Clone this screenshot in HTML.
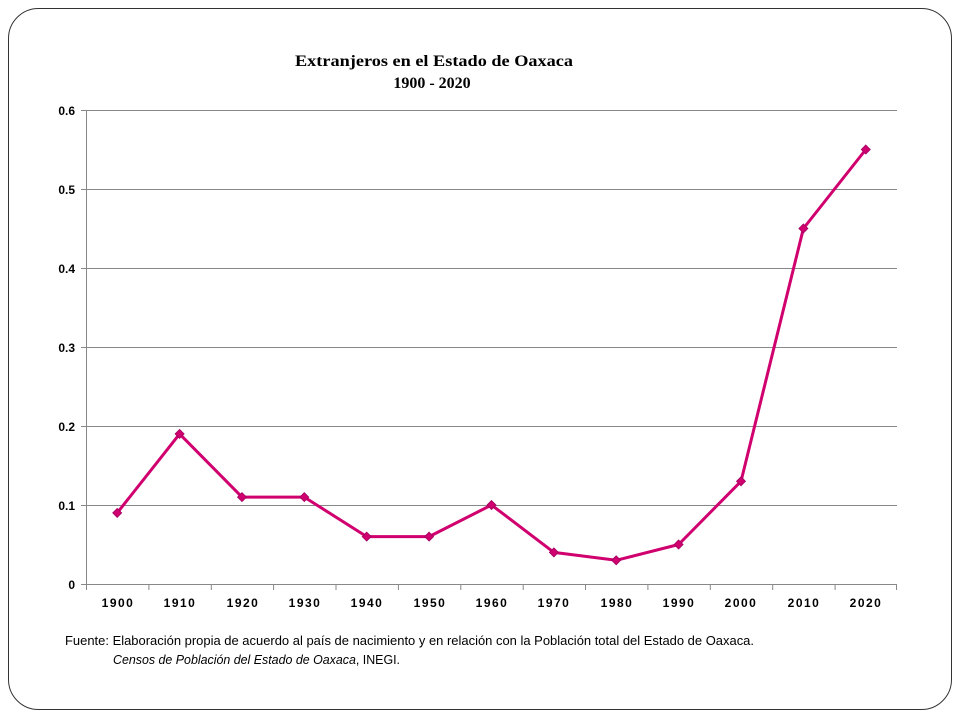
<!DOCTYPE html>
<html><head><meta charset="utf-8"><style>body{margin:0;background:#fff}svg{display:block}</style></head><body>
<svg width="960" height="720" xmlns="http://www.w3.org/2000/svg">
<rect x="8.5" y="8.5" width="943" height="701" rx="30" fill="#fff" stroke="#333" stroke-width="1"/>
<g font-family="Liberation Serif, serif" font-weight="bold" font-size="16" fill="#000" text-anchor="middle">
<text x="434" y="66" textLength="278" lengthAdjust="spacingAndGlyphs">Extranjeros en el Estado de Oaxaca</text>
<text x="432" y="88">1900 - 2020</text>
</g>
<g stroke="#888" stroke-width="1">
<line x1="86" y1="110.5" x2="897" y2="110.5"/>
<line x1="86" y1="189.5" x2="897" y2="189.5"/>
<line x1="86" y1="268.5" x2="897" y2="268.5"/>
<line x1="86" y1="347.5" x2="897" y2="347.5"/>
<line x1="86" y1="426.5" x2="897" y2="426.5"/>
<line x1="86" y1="505.5" x2="897" y2="505.5"/>
<line x1="86" y1="584.5" x2="897" y2="584.5"/>
<line x1="86.5" y1="110" x2="86.5" y2="584"/>
<line x1="81" y1="110.5" x2="86" y2="110.5"/><line x1="81" y1="189.5" x2="86" y2="189.5"/><line x1="81" y1="268.5" x2="86" y2="268.5"/><line x1="81" y1="347.5" x2="86" y2="347.5"/><line x1="81" y1="426.5" x2="86" y2="426.5"/><line x1="81" y1="505.5" x2="86" y2="505.5"/><line x1="81" y1="584.5" x2="86" y2="584.5"/>
<path d="M86.5 584v6M148.9 584v6M211.3 584v6M273.6 584v6M336 584v6M398.4 584v6M460.8 584v6M523.2 584v6M585.5 584v6M647.9 584v6M710.3 584v6M772.7 584v6M835.1 584v6M896.5 584v6"/>
</g>
<g font-family="Liberation Sans, sans-serif" font-weight="bold" font-size="12" fill="#000" text-anchor="end">
<text x="75" y="115">0.6</text><text x="75" y="194">0.5</text><text x="75" y="273">0.4</text><text x="75" y="352">0.3</text><text x="75" y="431">0.2</text><text x="75" y="510">0.1</text><text x="75" y="589">0</text>
</g>
<g font-family="Liberation Sans, sans-serif" font-weight="bold" font-size="12" fill="#000" text-anchor="middle" letter-spacing="1.5">
<text x="118" y="607">1900</text><text x="180" y="607">1910</text><text x="243" y="607">1920</text><text x="305" y="607">1930</text><text x="367" y="607">1940</text><text x="430" y="607">1950</text><text x="492" y="607">1960</text><text x="554" y="607">1970</text><text x="617" y="607">1980</text><text x="679" y="607">1990</text><text x="741" y="607">2000</text><text x="804" y="607">2010</text><text x="866" y="607">2020</text>
</g>
<polyline fill="none" stroke="#d0006f" stroke-width="3" stroke-linejoin="round" points="117.2,512.9 179.6,433.9 242,497.1 304.3,497.1 366.7,536.6 429.1,536.6 491.5,505 553.9,552.4 616.2,560.3 678.6,544.5 741,481.3 803.4,228.5 865.8,149.5"/>
<g fill="#d0006f" stroke="#a00060" stroke-width="0.8">
<path d="M117.2 508.4l4.5 4.5l-4.5 4.5l-4.5-4.5z"/><path d="M179.6 429.4l4.5 4.5l-4.5 4.5l-4.5-4.5z"/><path d="M242 492.6l4.5 4.5l-4.5 4.5l-4.5-4.5z"/><path d="M304.3 492.6l4.5 4.5l-4.5 4.5l-4.5-4.5z"/><path d="M366.7 532.1l4.5 4.5l-4.5 4.5l-4.5-4.5z"/><path d="M429.1 532.1l4.5 4.5l-4.5 4.5l-4.5-4.5z"/><path d="M491.5 500.5l4.5 4.5l-4.5 4.5l-4.5-4.5z"/><path d="M553.9 547.9l4.5 4.5l-4.5 4.5l-4.5-4.5z"/><path d="M616.2 555.8l4.5 4.5l-4.5 4.5l-4.5-4.5z"/><path d="M678.6 540l4.5 4.5l-4.5 4.5l-4.5-4.5z"/><path d="M741 476.8l4.5 4.5l-4.5 4.5l-4.5-4.5z"/><path d="M803.4 224l4.5 4.5l-4.5 4.5l-4.5-4.5z"/><path d="M865.8 145l4.5 4.5l-4.5 4.5l-4.5-4.5z"/>
</g>
<g font-family="Liberation Sans, sans-serif" font-size="12.5" fill="#000">
<text x="65" y="645" textLength="689" lengthAdjust="spacingAndGlyphs">Fuente: Elaboración propia  de acuerdo al país de nacimiento y en relación con la Población total del Estado de Oaxaca.</text>
<text x="113" y="664" textLength="287" lengthAdjust="spacingAndGlyphs"><tspan font-style="italic">Censos de Población  del Estado de Oaxaca</tspan>,  INEGI.</text>
</g>
</svg>
</body></html>
